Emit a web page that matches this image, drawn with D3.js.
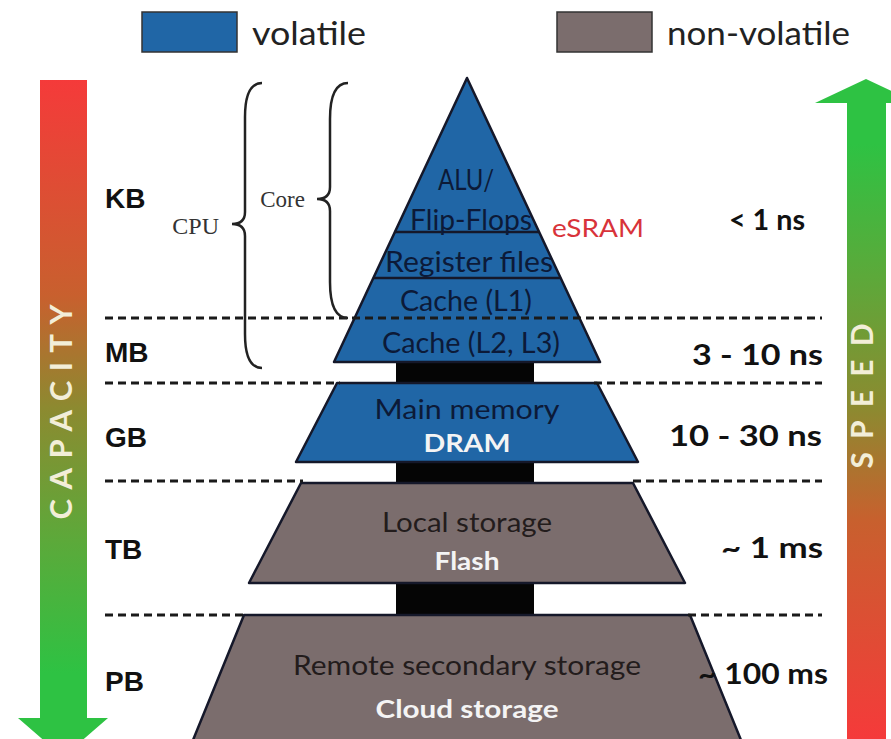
<!DOCTYPE html>
<html>
<head>
<meta charset="utf-8">
<script src="https://cdn.jsdelivr.net/npm/d3@7"></script>
<style>
  body { margin: 0; background: #fff; }
  svg { display: block; }
</style>
</head>
<body>
<script>
// memory hierarchy pyramid

var tierNames = ['CPU core', 'Main memory', 'Local storage', 'Remote secondary storage'];
var tierKinds = ['volatile', 'volatile', 'non-volatile', 'non-volatile'];
var tierSubLabels = ['', 'DRAM', 'Flash', 'Cloud storage'];
var cpuCells = ['ALU/', 'Flip-Flops', 'Register files', 'Cache (L1)', 'Cache (L2, L3)'];
var capacityLabels = ['KB', 'MB', 'GB', 'TB', 'PB'];
var speedLabels = ['< 1 ns', '3 - 10 ns', '10 - 30 ns', '~ 1 ms', '~ 100 ms'];
var legendItems = ['volatile', 'non-volatile'];

var W = 891, H = 739;
var colors = { 'volatile': '#2066a6', 'non-volatile': '#7b6d6d' };
var font = 'Lato, "Open Sans", sans-serif';
var serif = '"Liberation Serif", "DejaVu Serif", serif';

var svg = d3.select('body').append('svg').attr('width', W).attr('height', H);
var defs = svg.append('defs');

// layout
var rowLines = [318, 383, 481, 615];
var capY = [198, 352, 437, 549, 681];
var speedY = [218, 353, 434, 546, 672];
var cx = 467;

function grad(id, stops) {
  var g = defs.append('linearGradient').attr('id', id)
    .attr('gradientUnits', 'userSpaceOnUse')
    .attr('x1', 0).attr('x2', 0).attr('y1', 78).attr('y2', 739);
  stops.forEach(function(s) {
    g.append('stop').attr('offset', s[0]).attr('stop-color', s[1]);
  });
}
grad('gDown', [[0, '#f53a3a'], [0.33, '#c8602e'], [0.5, '#8c8a30'], [0.7, '#5ca93a'], [0.9, '#2ec243'], [1, '#2ec243']]);
grad('gUp', [[0, '#2ec243'], [0.1, '#2ec243'], [0.3, '#5ca93a'], [0.5, '#8c8a30'], [0.67, '#c8602e'], [1, '#f53a3a']]);

// capacity arrow (down)
svg.append('path')
  .attr('d', 'M40,80 L87,80 L87,718 L108,718 L63,757 L18,718 L40,718 Z')
  .attr('fill', 'url(#gDown)');
svg.append('text')
  .attr('transform', 'translate(60,412) rotate(-90)')
  .attr('text-anchor', 'middle').attr('dominant-baseline', 'central')
  .attr('font-family', font).attr('font-weight', 700)
  .attr('font-size', 31).attr('textLength', 215).attr('lengthAdjust', 'spacing')
  .attr('fill', '#f2eed8')
  .text('CAPACITY');

// speed arrow (up)
svg.append('path')
  .attr('d', 'M847,103 L815,103 L866,79 L917,103 L886,103 L886,739 L847,739 Z')
  .attr('fill', 'url(#gUp)');
svg.append('text')
  .attr('transform', 'translate(861,396) rotate(-90)')
  .attr('text-anchor', 'middle').attr('dominant-baseline', 'central')
  .attr('font-family', font).attr('font-weight', 700)
  .attr('font-size', 30).attr('textLength', 145).attr('lengthAdjust', 'spacing')
  .attr('fill', '#f2eed8')
  .text('SPEED');

// legend
var legX = [142, 557];
var legW = [114, 183];
legendItems.forEach(function(k, i) {
  svg.append('rect').attr('x', legX[i]).attr('y', 12).attr('width', 95).attr('height', 40)
    .attr('fill', colors[k]).attr('stroke', '#333').attr('stroke-width', 1.5);
  svg.append('text').attr('x', legX[i] + 110).attr('y', 45)
    .attr('font-family', font).attr('font-size', 33).attr('fill', '#222')
    .attr('textLength', legW[i]).attr('lengthAdjust', 'spacingAndGlyphs')
    .text(k);
});

// black connector behind the tiers
svg.append('rect').attr('x', 396).attr('y', 350).attr('width', 138).attr('height', 270).attr('fill', '#050505');

// tier geometry: top y, bottom y, half width top, half width bottom
var tierGeom = [
  { y0: 78, y1: 362, w0: 0, w1: 133 },
  { y0: 383, y1: 462, w0: 130, w1: 171 },
  { y0: 483, y1: 583, w0: 166, w1: 218 },
  { y0: 615, y1: 745, w0: 223, w1: 276 }
];

svg.append('g').selectAll('path')
  .data(tierNames)
  .enter().append('path')
  .attr('d', function(d, i) {
    var g = tierGeom[i];
    return 'M' + (cx - g.w0) + ',' + g.y0 + ' L' + (cx + g.w0) + ',' + g.y0 +
      ' L' + (cx + g.w1) + ',' + g.y1 + ' L' + (cx - g.w1) + ',' + g.y1 + ' Z';
  })
  .attr('fill', function(d, i) { return colors[tierKinds[i]]; })
  .attr('stroke', '#15182a').attr('stroke-width', 2.5).attr('stroke-linejoin', 'round');

// inner split lines of CPU triangle
var g0 = tierGeom[0];
function halfAt(yy) { return (yy - g0.y0) / (g0.y1 - g0.y0) * g0.w1; }
var cellLines = [232, 278];
svg.append('g').selectAll('line').data(cellLines).enter().append('line')
  .attr('x1', function(d) { return cx - halfAt(d); })
  .attr('x2', function(d) { return cx + halfAt(d); })
  .attr('y1', function(d) { return d; }).attr('y2', function(d) { return d; })
  .attr('stroke', '#15182a').attr('stroke-width', 2.5);

// dashed row separators
var dashSegs = [
  [[105, 822]],
  [[105, 340], [594, 822]],
  [[105, 303], [633, 822]],
  [[105, 245], [688, 822]]
];
dashSegs.forEach(function(segs, i) {
  segs.forEach(function(s) {
    svg.append('line')
      .attr('x1', s[0]).attr('x2', s[1])
      .attr('y1', rowLines[i]).attr('y2', rowLines[i])
      .attr('stroke', '#1a1a1a').attr('stroke-width', 3)
      .attr('stroke-dasharray', '8,5');
  });
});

// text in the CPU triangle
var cellX = [466, 471, 469, 466, 471];
var cellY = [179, 219, 261, 300, 342];
var cellW = [56, 122, 168, 132, 178];
svg.append('g').selectAll('text').data(cpuCells).enter().append('text')
  .attr('x', function(d, i) { return cellX[i]; })
  .attr('y', function(d, i) { return cellY[i]; })
  .attr('text-anchor', 'middle').attr('dominant-baseline', 'central')
  .attr('font-family', font).attr('font-size', 28).attr('fill', '#0c1a38')
  .attr('textLength', function(d, i) { return cellW[i]; })
  .attr('lengthAdjust', 'spacingAndGlyphs')
  .text(function(d) { return d; });

// tier names and sub labels
var nameY = [0, 408, 521, 664];
var nameW = [0, 185, 170, 348];
var subY = [0, 442, 560, 708];
var subW = [0, 87, 65, 183];
tierNames.forEach(function(t, i) {
  if (i === 0) return;
  svg.append('text').attr('x', cx).attr('y', nameY[i])
    .attr('text-anchor', 'middle').attr('dominant-baseline', 'central')
    .attr('font-family', font).attr('font-size', 27)
    .attr('textLength', nameW[i]).attr('lengthAdjust', 'spacingAndGlyphs')
    .attr('fill', tierKinds[i] === 'volatile' ? '#0c1a38' : '#231c1c')
    .text(t);
  svg.append('text').attr('x', cx).attr('y', subY[i])
    .attr('text-anchor', 'middle').attr('dominant-baseline', 'central')
    .attr('font-family', font).attr('font-weight', 700).attr('font-size', 25)
    .attr('textLength', subW[i]).attr('lengthAdjust', 'spacingAndGlyphs')
    .attr('fill', '#f4f4f4')
    .text(tierSubLabels[i]);
});

// eSRAM
svg.append('text').attr('x', 552).attr('y', 227).attr('dominant-baseline', 'central')
  .attr('font-family', font).attr('font-size', 25).attr('fill', '#d8333a')
  .attr('textLength', 92).attr('lengthAdjust', 'spacingAndGlyphs')
  .text('eSRAM');

// capacity labels
svg.append('g').selectAll('text').data(capacityLabels).enter().append('text')
  .attr('x', 105).attr('y', function(d, i) { return capY[i]; })
  .attr('dominant-baseline', 'central')
  .attr('font-family', '"Liberation Sans", Arial, sans-serif').attr('font-weight', 700)
  .attr('font-size', 28).attr('fill', '#111')
  .text(function(d) { return d; });

// speed labels
var speedRight = [805, 823, 822, 823, 828];
var speedW = [76, 131, 153, 102, 130];
svg.append('g').selectAll('text').data(speedLabels).enter().append('text')
  .attr('x', function(d, i) { return speedRight[i]; })
  .attr('y', function(d, i) { return speedY[i]; })
  .attr('text-anchor', 'end').attr('dominant-baseline', 'central')
  .attr('font-family', font).attr('font-weight', 700)
  .attr('font-size', 29).attr('fill', '#111')
  .attr('textLength', function(d, i) { return speedW[i]; })
  .attr('lengthAdjust', 'spacingAndGlyphs')
  .text(function(d) { return d; });

// braces
function brace(xEdge, xBody, xTip, yTop, yTip, yBot) {
  var r = xEdge - xBody;
  return 'M' + xEdge + ',' + yTop +
    ' Q' + xBody + ',' + yTop + ' ' + xBody + ',' + (yTop + r * 2) +
    ' L' + xBody + ',' + (yTip - 12) +
    ' Q' + xBody + ',' + yTip + ' ' + xTip + ',' + yTip +
    ' Q' + xBody + ',' + yTip + ' ' + xBody + ',' + (yTip + 12) +
    ' L' + xBody + ',' + (yBot - r * 2) +
    ' Q' + xBody + ',' + yBot + ' ' + xEdge + ',' + yBot;
}
svg.append('path').attr('d', brace(262, 245, 232, 83, 224, 368))
  .attr('fill', 'none').attr('stroke', '#222').attr('stroke-width', 2.5);
svg.append('path').attr('d', brace(348, 330, 317, 83, 199, 318))
  .attr('fill', 'none').attr('stroke', '#222').attr('stroke-width', 2.5);

svg.append('text').attr('x', 219).attr('y', 226).attr('text-anchor', 'end')
  .attr('dominant-baseline', 'central')
  .attr('font-family', serif).attr('font-size', 24).attr('fill', '#333')
  .text('CPU');
svg.append('text').attr('x', 305).attr('y', 199).attr('text-anchor', 'end')
  .attr('dominant-baseline', 'central')
  .attr('font-family', serif).attr('font-size', 23).attr('fill', '#333')
  .text('Core');
</script>
</body>
</html>
